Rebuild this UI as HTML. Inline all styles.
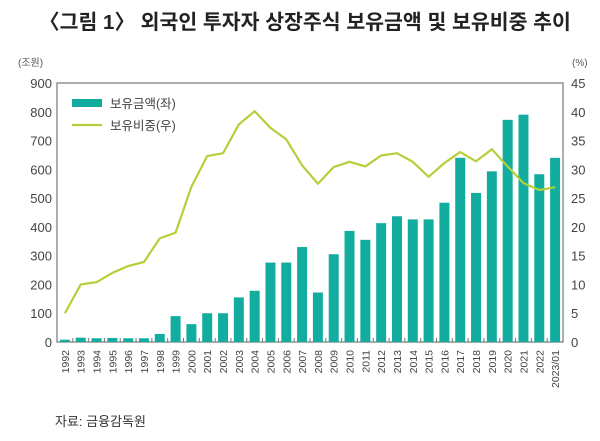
<!DOCTYPE html>
<html><head><meta charset="utf-8"><style>
body{margin:0;background:#fff;width:600px;height:441px;overflow:hidden}
svg{display:block;font-family:"Liberation Sans","Noto Sans CJK KR",sans-serif}
</style></head><body>
<svg id="c" width="600" height="441">
<text x="305" y="29" text-anchor="middle" font-size="20.5" font-weight="bold" fill="#222">〈그림 1〉 외국인 투자자 상장주식 보유금액 및 보유비중 추이</text>
<text x="18" y="66" font-size="10" fill="#555">(조원)</text>
<text x="572" y="66" font-size="10" fill="#555">(%)</text>
<text x="55" y="426" font-size="13" fill="#333">자료: 금융감독원</text>
<g id="g"></g>
</svg>
<script>
const categories=["1992","1993","1994","1995","1996","1997","1998","1999","2000","2001","2002","2003","2004","2005","2006","2007","2008","2009","2010","2011","2012","2013","2014","2015","2016","2017","2018","2019","2020","2021","2022","2023/01"];
const amounts=[8,15,13,14,13,13,28,90,62,100,100,155,178,276,276,330,172,305,386,355,413,437,426,426,484,640,518,593,772,790,583,640];
const shares=[5,10,10.4,12,13.2,13.9,18,19,27,32.3,32.8,37.8,40.1,37.2,35.2,30.7,27.5,30.4,31.3,30.5,32.4,32.8,31.3,28.7,31.1,33,31.4,33.5,30.5,27.6,26.4,26.9];
const leftTicks=[0,100,200,300,400,500,600,700,800,900];
const rightTicks=[0,5,10,15,20,25,30,35,40,45];
const L=57,R=563,T=83,B=342,NS="http://www.w3.org/2000/svg";
const g=document.getElementById('g');
const slot=(R-L)/categories.length;
const xc=i=>L+slot*(i+0.5);
const yl=v=>B-(v/900)*(B-T);
const yr=v=>B-(v/45)*(B-T);
function mk(t,a){const e=document.createElementNS(NS,t);for(const k in a)e.setAttribute(k,a[k]);g.appendChild(e);return e;}
const fr=mk('rect',{x:L,y:T,width:R-L,height:B-T,fill:'none',stroke:'#777','stroke-width':1.2});


leftTicks.forEach(v=>{const t=mk('text',{x:L-5,y:yl(v)+5,'text-anchor':'end','font-size':13,fill:'#444'});t.textContent=v;

});
rightTicks.forEach(v=>{const t=mk('text',{x:R+8,y:yr(v)+5,'font-size':13,fill:'#444'});t.textContent=v;

});
amounts.forEach((v,i)=>{const b=mk('rect',{x:xc(i)-5,y:yl(v),width:10,height:B-yl(v),fill:'#13ada0'});

});
categories.forEach((c,i)=>{mk('line',{x1:L+slot*i,x2:L+slot*i,y1:B,y2:B-4,stroke:'#777'});
const t=mk('text',{transform:`translate(${xc(i)+4},${B+8}) rotate(-90)`,'text-anchor':'end','font-size':10.5,fill:'#444'});t.textContent=c;

});
const ln=mk('polyline',{points:shares.map((v,i)=>xc(i)+','+yr(v)).join(' '),fill:'none',stroke:'#b5cf3a','stroke-width':2.2,'stroke-linejoin':'round'});


const lb=mk('rect',{x:72,y:99,width:30,height:8,fill:'#13ada0'});


const ll=mk('line',{x1:72,x2:102,y1:125,y2:125,stroke:'#b5cf3a','stroke-width':2.2});


const t1=mk('text',{x:110,y:108,'font-size':12.5,fill:'#444'});t1.textContent='보유금액(좌)';


const t2=mk('text',{x:110,y:130,'font-size':12.5,fill:'#444'});t2.textContent='보유비중(우)';


</script>
</body></html>
